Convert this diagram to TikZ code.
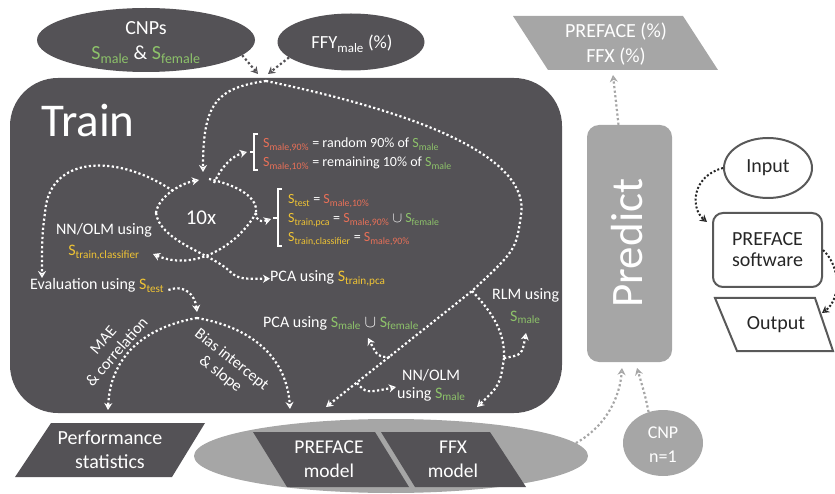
\documentclass[tikz,border=0pt]{standalone}
\usepackage{fontspec}
\setmainfont{Carlito}
\usetikzlibrary{arrows.meta,shapes.geometric,positioning}

\definecolor{trainbg}{RGB}{84,82,86}
\definecolor{predictbg}{RGB}{166,166,166}
\definecolor{smale}{RGB}{141,194,106}
\definecolor{ssplit}{RGB}{232,112,88}
\definecolor{sset}{RGB}{240,196,52}
\definecolor{legendline}{RGB}{89,89,89}

\newcommand{\Sg}[1]{\textcolor{smale}{S\textsubscript{#1}}}
\newcommand{\Sr}[1]{\textcolor{ssplit}{S\textsubscript{#1}}}
\newcommand{\Sy}[1]{\textcolor{sset}{S\textsubscript{#1}}}

\begin{document}
\begin{tikzpicture}[x=1pt,y=-1pt,inner sep=0pt,
    flow/.style={draw=white,line width=2.2pt,dash pattern=on 2.2pt off 2.4pt,
                 -{Stealth[open,length=7pt,width=8pt,line width=1.3pt]}},
    flowline/.style={flow,-},
    gflow/.style={flow,draw=predictbg},
    dflow/.style={flow,draw=trainbg},
    kflow/.style={flow,draw=black!85,line width=2pt,dash pattern=on 2pt off 2pt},
    lbl/.style={text=white,font=\fontsize{16}{19}\selectfont},
    small/.style={text=white,font=\fontsize{14}{16}\selectfont},
    big/.style={text=white,font=\fontsize{20}{24}\selectfont,align=center},
    key/.style={text=black!85,font=\fontsize{20}{21}\selectfont,align=center,
                draw=legendline,line width=2pt}]
  \tikzstyle{bracket}=[draw=white,line width=1.2pt]

  \useasboundingbox (0,0) rectangle (835,494);

  % train block
  \node[fill=trainbg,rounded corners=48pt,minimum width=552,minimum height=335]
       (train) at (286,245.5) {};
  \node[text=white,font=\fontsize{47}{50}\selectfont,anchor=base west]
       (traintitle) at (41,137) {Train};

  \node[ellipse,fill=trainbg,minimum width=218,minimum height=64] (cnps) at (146,40) {};
  \node[big,anchor=base] (cnps1) at (146,35) {CNPs};
  \node[big,anchor=base] (cnps2) at (146,60) {\Sg{male} \& \Sg{female}};
  \node[ellipse,fill=trainbg,minimum width=147,minimum height=57] (ffy) at (351,42) {};
  \node[big,anchor=base,font=\fontsize{18.5}{22}\selectfont] (ffytxt) at (352,49) {FFY\textsubscript{male} (\%)};

  % predict block
  \fill[predictbg] (513,16) -- (683,16) -- (718,70) -- (548,70) -- cycle;
  \node[big,anchor=base] (predout1) at (616,38) {PREFACE (\%)};
  \node[big,anchor=base] (predout2) at (616,63) {FFX (\%)};
  \node[fill=predictbg,rounded corners=12pt,minimum width=85,minimum height=237]
       (predict) at (629.5,243.5) {};
  \node[text=white,font=\fontsize{45}{48}\selectfont,rotate=90] (predicttxt) at (627,243) {Predict};
  \node[ellipse,fill=predictbg,minimum width=80,minimum height=66] (cnp) at (663,443) {};
  \node[big,anchor=base,font=\fontsize{18}{22}\selectfont] (cnp1) at (663,438) {CNP};
  \node[big,anchor=base,font=\fontsize{18}{22}\selectfont] (cnp2) at (663,462) {n=1};

  % outputs
  \node[ellipse,fill=predictbg,minimum width=394,minimum height=74] (models) at (391,456) {};
  \fill[trainbg] (253,432) -- (375,432) -- (409,487) -- (287,487) -- cycle;
  \fill[trainbg] (381,432) -- (490,432) -- (526,487) -- (415,487) -- cycle;
  \fill[trainbg] (51,423) -- (205,423) -- (172,477) -- (15,477) -- cycle;
  \node[big,anchor=base,font=\fontsize{19.5}{24}\selectfont] (pmodel1) at (329,453) {PREFACE};
  \node[big,anchor=base,font=\fontsize{19.5}{24}\selectfont] (pmodel2) at (329,477) {model};
  \node[big,anchor=base,font=\fontsize{19.5}{24}\selectfont] (fmodel1) at (453,453) {FFX};
  \node[big,anchor=base,font=\fontsize{19.5}{24}\selectfont] (fmodel2) at (453,477) {model};
  \node[big,anchor=base] (perf1) at (110,444) {Performance};
  \node[big,anchor=base] (perf2) at (110,468) {statistics};

  % legend
  \node[key,ellipse,minimum width=88,minimum height=60] (input) at (768,168) {Input};
  \node[key,rounded corners=10pt,minimum width=109,minimum height=74] (software) at (767.5,250)
       {PREFACE\\software};
  \draw[legendline,line width=2pt] (715,298) -- (815,298) -- (833,351) -- (737,351) -- cycle;
  \node[text=black!85,font=\fontsize{20}{21}\selectfont] (output) at (776,325) {Output};

  % labels inside train
  \node[lbl,anchor=base] (iter) at (201,225) {\fontsize{21}{24}\selectfont 10x};
  \node[small,anchor=base west] (split1) at (263,148) {\Sr{male,90\%} = random 90\% of \Sg{male}};
  \node[small,anchor=base west] (split2) at (263,167) {\Sr{male,10\%} = remaining 10\% of \Sg{male}};
  \node[small,anchor=base west] (set1) at (288,204) {\Sy{test} = \Sr{male,10\%}};
  \node[small,anchor=base west] (set2) at (288,223) {\Sy{train,pca} = \Sr{male,90\%} $\cup$ \Sg{female}};
  \node[small,anchor=base west] (set3) at (288,242) {\Sy{train,classifier} = \Sr{male,90\%}};
  \node[lbl,anchor=base] (nnc1) at (104,235) {NN/OLM using};
  \node[lbl,anchor=base] (nnc2) at (104,256) {\Sy{train,classifier}};
  \node[lbl,anchor=base west] (eval) at (30,290) {Evaluation using \Sy{test}};
  \node[lbl,anchor=base west] (pcatr) at (270,282) {PCA using \Sy{train,pca}};
  \node[lbl,anchor=base west] (pcaall) at (263,327) {PCA using \Sg{male} $\cup$ \Sg{female}};
  \node[lbl,anchor=base west] (rlm1) at (492,300) {RLM using};
  \node[lbl,anchor=base west] (rlm2) at (510,321) {\Sg{male}};
  \node[lbl,anchor=base west] (nnm1) at (402,380) {NN/OLM};
  \node[lbl,anchor=base west] (nnm2) at (397,398) {using \Sg{male}};
  \node[lbl,rotate=49,align=center,font=\fontsize{16}{18}\selectfont] (mae) at (110,346) {MAE\\\& correlation};
  \node[lbl,rotate=-38,align=center,font=\fontsize{16}{18}\selectfont] (bias) at (226,367) {Bias intercept\\\& slope};

  % brackets
  \draw[bracket] (258,134) -- (254,134) -- (254,170) -- (258,170) (254,152) -- (250,152);
  \draw[bracket] (282,189) -- (278,189) -- (278,246) -- (282,246) (278,218) -- (273,218);

  \coordinate (in1) at (258,74);
  \coordinate (in2) at (268,74);
  \coordinate (top) at (266,81);
  \coordinate (lt) at (199,180);
  \coordinate (rt) at (209,179);
  \coordinate (ll) at (156,213);
  \coordinate (lr) at (256,213);
  \coordinate (b1) at (214,183);
  \coordinate (ev0) at (173,191);
  \coordinate (j1) at (472,291);
  \coordinate (j2) at (390,357);
  \coordinate (j3) at (357,383);
  \coordinate (j4) at (504,358);
  \coordinate (sp) at (197,318);

  % inputs
  \draw[dflow] (cnps.-9) -- (in1);
  \draw[dflow] (ffy.-166) -- (in2);

  % the 10x loop
  \draw[flow] (top) .. controls (215,88) and (203,105) .. (203,172);
  \draw[flow] (ll) .. controls (158,198) and (178,184) .. (lt);
  \draw[flowline] (rt) .. controls (240,186) and (258,198) .. (lr);
  \draw[flow] (b1) .. controls (222,166) and (232,156) .. (247,152);
  \draw[flow] (lr) .. controls (256,222) and (262,222) .. (271,219);
  \draw[flow] (lr) .. controls (238,245) and (195,272) .. (153,254);
  \draw[flow] (ll) .. controls (160,240) and (205,252) .. (226,268)
              .. controls (238,279) .. (pcatr.west);
  \draw[flow] (ev0) .. controls (120,155) and (55,155) .. (46,205)
              .. controls (42,235) .. (42,278);
  \draw[flow] ([xshift=4pt]eval.base east) .. controls (185,284) and (195,295) .. (197,312);
  \draw[flow] (sp) .. controls (140,328) and (110,360) .. (108,410);
  \draw[flow] (sp) .. controls (255,328) and (287,360) .. (290,409);

  % final models
  \draw[flow] (top) .. controls (430,115) and (530,160) .. (521,215)
              .. controls (516,250) .. (j1) -- (326,407);
  \draw[flowline] (j1) .. controls (495,315) and (505,335) .. (j4);
  \draw[flow] (j4) .. controls (500,385) .. (477,407);
  \draw[flow] (j4) .. controls (522,355) .. (526,333);
  \draw[flow] (j2) .. controls (378,357) .. (368,338);
  \draw[flow] (j3) .. controls (366,393) .. (396,387);

  % predict
  \draw[gflow] ([xshift=-11pt]predict.north) -- (613,75);
  \draw[gflow] (models.4) .. controls (608,425) and (620,395) .. (622,368);
  \draw[gflow] (cnp.115) .. controls (645,395) .. (637,368);

  \draw[kflow] (input.west) .. controls (692,176) and (690,208) .. (707,222);
  \draw[kflow] (software.east) .. controls (842,268) and (840,300) .. (822,313);
\end{tikzpicture}
\end{document}
